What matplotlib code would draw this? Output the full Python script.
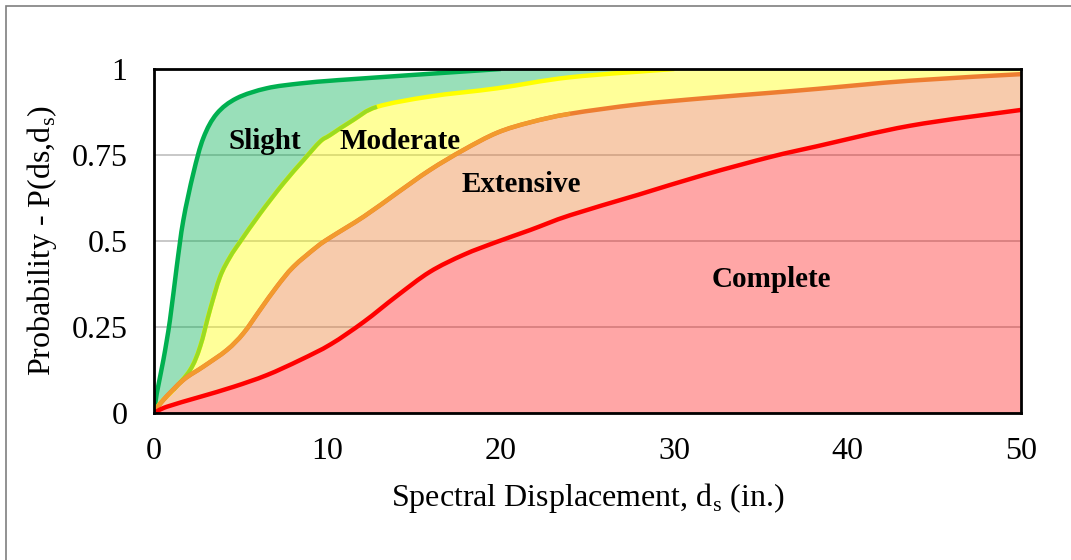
import matplotlib
matplotlib.use("Agg")
import matplotlib.pyplot as plt
import numpy as np
from matplotlib.patches import Rectangle, PathPatch
from matplotlib.path import Path

# ---- data ----
slight_x = [0, 0.16, 0.54, 0.92, 1.31, 1.69, 2.27, 2.85, 3.62, 4.77, 6.5, 8.43, 10.2, 11.3, 15.0, 20.0]
slight_y = [0, 0.057, 0.154, 0.27, 0.425, 0.56, 0.697, 0.80, 0.87, 0.915, 0.944, 0.958, 0.966, 0.97, 0.983, 1.0]

moderate_x = [0, 0.35, 1.11, 2.08, 2.66, 3.23, 3.81, 4.39, 4.97, 6.12, 7.47, 8.62, 9.58, 10.16, 11.5, 12.86,
              15.9, 19.8, 24.0, 30.0]
moderate_y = [0, 0.028, 0.067, 0.125, 0.193, 0.30, 0.396, 0.454, 0.498, 0.58, 0.668, 0.735, 0.789, 0.808, 0.852, 0.89,
              0.92, 0.944, 0.976, 1.0]

extensive_x = [0, 0.54, 1.69, 2.85, 4.2, 5.16, 6.12, 7.08, 8.04, 9.39, 10.16, 12.1, 14.0, 15.9, 17.86, 19.8,
               21.7, 24.0, 27.9, 31.7, 35.6, 38.2, 43.6, 50.0]
extensive_y = [0, 0.038, 0.096, 0.135, 0.183, 0.232, 0.30, 0.367, 0.425, 0.483, 0.51, 0.571, 0.639, 0.706, 0.765, 0.815,
               0.845, 0.870, 0.897, 0.915, 0.931, 0.942, 0.966, 0.985]

complete_x = [0, 0.73, 2.66, 4.58, 6.5, 8.43, 10.2, 12.1, 14.0, 15.9, 17.86, 19.8, 21.7, 24.0, 27.9, 31.7,
              35.6, 38.2, 43.6, 50.0]
complete_y = [0, 0.018, 0.047, 0.076, 0.11, 0.154, 0.20, 0.265, 0.34, 0.41, 0.46, 0.498, 0.532, 0.575, 0.634, 0.692,
              0.745, 0.775, 0.835, 0.881]

state_labels = ["Slight", "Moderate", "Extensive", "Complete"]
label_pos_x = [6.4, 14.2, 21.2, 35.6]
label_pos_y = [0.79, 0.79, 0.665, 0.388]

x_ticks = [0, 10, 20, 30, 40, 50]
y_ticks = [0, 0.25, 0.5, 0.75, 1]
y_ticklabels = ["0", "0.25", "0.5", "0.75", "1"]
XLIM = (0, 50)
YLIM = (0, 1)

# ---- styling ----
plt.rcParams['font.family'] = ['Liberation Serif', 'DejaVu Serif']
plt.rcParams['mathtext.fontset'] = 'custom'
plt.rcParams['mathtext.rm'] = 'Liberation Serif'

c_slight = '#00B050'
c_mod = '#FFFF00'
c_mod2 = '#9BDB22'
c_ext = '#ED7D31'
c_ext2 = '#F29A2E'
c_comp = '#FF0000'


def smooth_verts(x, y):
    """Bezier control vertices (Catmull-Rom style, like a smoothed line) through the data points."""
    pts = np.column_stack([x, y]).astype(float)
    n = len(pts)
    verts = [pts[0]]
    for i in range(n - 1):
        p0 = pts[i - 1] if i > 0 else pts[i]
        p1, p2 = pts[i], pts[i + 1]
        p3 = pts[i + 2] if i + 2 < n else pts[i + 1]
        c1 = p1 + (p2 - p0) / 6.0
        c2 = p2 - (p3 - p1) / 6.0
        for k in range(2):
            lo, hi = min(p1[k], p2[k]), max(p1[k], p2[k])
            c1[k] = np.clip(c1[k], lo, hi)
            c2[k] = np.clip(c2[k], lo, hi)
        verts += [c1, c2, p2]
    return np.array(verts)


def line_path(v):
    return Path(v, [Path.MOVETO] + [Path.CURVE4] * (len(v) - 1))


def band_path(upper, lower, corners=()):
    """Closed region: upper curve forward, corner points, lower curve reversed."""
    verts = list(upper)
    codes = [Path.MOVETO] + [Path.CURVE4] * (len(upper) - 1)
    for c in corners:
        verts.append(c)
        codes.append(Path.LINETO)
    if lower is not None:
        rev = lower[::-1]
        verts += list(rev)
        codes += [Path.LINETO] + [Path.CURVE4] * (len(rev) - 1)
    verts.append(verts[0])
    codes.append(Path.CLOSEPOLY)
    return Path(np.array(verts, dtype=float), codes)


fig = plt.figure(figsize=(10.71, 5.60), dpi=100)
ax = fig.add_axes([154/1071, 1 - 413/560, (1021-154)/1071, (413-69)/560])

vs = smooth_verts(slight_x, slight_y)
vm = smooth_verts(moderate_x, moderate_y)
ve = smooth_verts(extensive_x, extensive_y)
vc = smooth_verts(complete_x, complete_y)

# fills (stacked bands)
ax.add_patch(PathPatch(band_path(vs, vm), facecolor=c_slight, alpha=0.4, lw=0, zorder=2))
ax.add_patch(PathPatch(band_path(vm, ve, corners=[(XLIM[1], YLIM[1])]), facecolor=c_mod, alpha=0.4, lw=0, zorder=2))
ax.add_patch(PathPatch(band_path(ve, vc), facecolor=c_ext, alpha=0.4, lw=0, zorder=2))
ax.add_patch(PathPatch(band_path(vc, None, corners=[(XLIM[1], YLIM[0])]), facecolor=c_comp, alpha=0.35, lw=0, zorder=2))

# lines
kw = dict(fill=False, capstyle='butt', joinstyle='round')
ax.add_patch(PathPatch(line_path(vs), edgecolor=c_slight, lw=3.2, zorder=5, **kw))
ax.add_patch(PathPatch(line_path(vm), edgecolor=c_mod, lw=3.2, zorder=5, **kw))
ax.add_patch(PathPatch(line_path(vm[3*2:3*15+1]), edgecolor=c_mod2, lw=3.0, zorder=5, **kw))
ax.add_patch(PathPatch(line_path(ve), edgecolor=c_ext, lw=3.2, zorder=5, **kw))
ax.add_patch(PathPatch(line_path(ve[:3*17+1]), edgecolor=c_ext2, lw=3.0, zorder=5, **kw))
ax.add_patch(PathPatch(line_path(vc), edgecolor=c_comp, lw=3.2, zorder=6, **kw))

for lab, lx, ly in zip(state_labels, label_pos_x, label_pos_y):
    ax.text(lx, ly, lab, fontsize=21, fontweight='bold', ha='center', va='center', zorder=7)

ax.set_xlim(*XLIM)
ax.set_ylim(*YLIM)
ax.set_xticks(x_ticks)
ax.set_yticks(y_ticks)
ax.set_yticklabels(y_ticklabels)
ax.tick_params(axis='both', length=0, labelsize=23)
ax.tick_params(axis='y', pad=19)
ax.tick_params(axis='x', pad=17)
ax.yaxis.grid(True, color='#BFBFBF', lw=1.2, zorder=1)
ax.set_axisbelow(True)
for s in ax.spines.values():
    s.set_linewidth(2.0)
    s.set_color('black')
    s.set_zorder(8)

ax.set_xlabel('Spectral Displacement, d$_{\\mathregular{s}}$ (in.)', fontsize=23, labelpad=11)
ax.set_ylabel('Probability - P(ds,d$_{\\mathregular{s}}$)', fontsize=23, labelpad=9)

# outer chart border
fig.patches.append(Rectangle((6/1071, -0.5), 2, 1 - 6/560 + 0.5, transform=fig.transFigure,
                             fill=False, edgecolor='#7F7F7F', lw=1.2))

fig.savefig('out.png', dpi=100)
